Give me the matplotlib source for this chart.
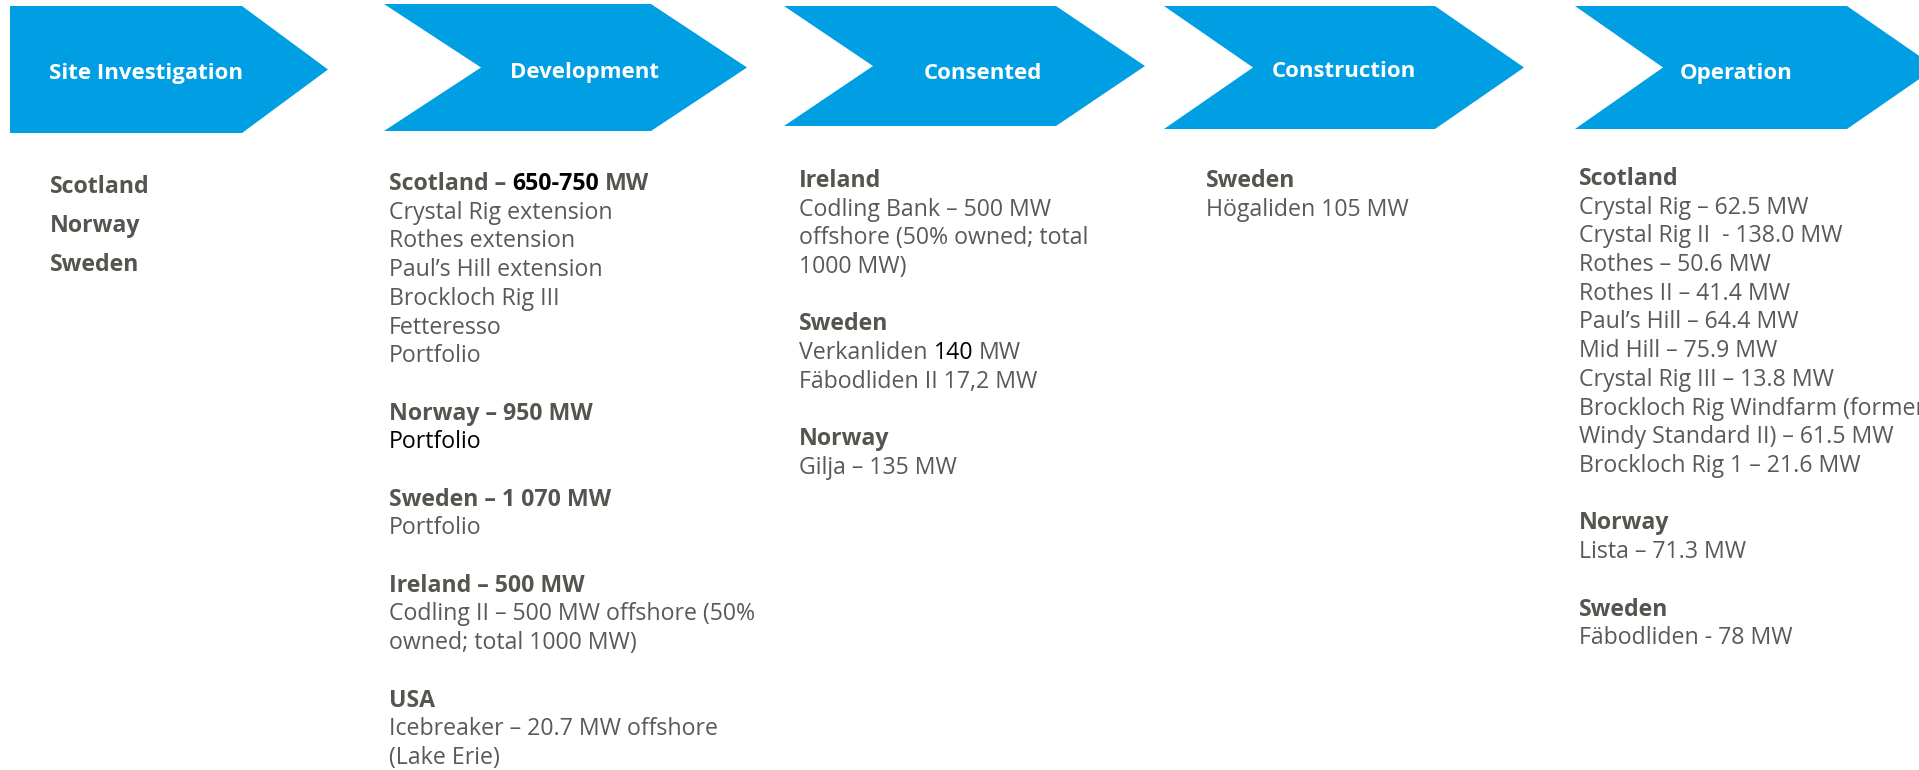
import matplotlib
matplotlib.use('Agg')
import matplotlib.pyplot as plt
from matplotlib.patches import Polygon

# --- canvas / style ---
W, H = 1919, 770
BLUE = '#009FE3'
GREY = '#595959'
HEAD_GREY = '#55554F'
BLACK = '#000000'
FONT = 'Open Sans'
BODY_SIZE = 16.7
HEADER_SIZE = 16.0
PITCH = 28.7

# --- content ---
stages = ['Site Investigation', 'Development', 'Consented', 'Construction', 'Operation']

# style codes: 'h' bold grey, 't' regular grey, 'H' bold black, 'T' regular black
site_lines = [
    [('Scotland', 'h')],
    [('Norway', 'h')],
    [('Sweden', 'h')],
]
dev_lines = [
    [('Scotland –', 'h'), ('650-750', 'H'), ('MW', 'h')],
    [('Crystal Rig extension', 't')],
    [('Rothes extension', 't')],
    [('Paul’s Hill extension', 't')],
    [('Brockloch Rig III', 't')],
    [('Fetteresso', 't')],
    [('Portfolio', 't')],
    None,
    [('Norway – 950 MW', 'h')],
    [('Portfolio', 'T')],
    None,
    [('Sweden – 1 070 MW', 'h')],
    [('Portfolio', 't')],
    None,
    [('Ireland – 500 MW', 'h')],
    [('Codling II – 500 MW offshore (50%', 't')],
    [('owned; total 1000 MW)', 't')],
    None,
    [('USA', 'h')],
    [('Icebreaker – 20.7 MW offshore', 't')],
    [('(Lake Erie)', 't')],
]
consented_lines = [
    [('Ireland', 'h')],
    [('Codling Bank – 500 MW', 't')],
    [('offshore (50% owned; total', 't')],
    [('1000 MW)', 't')],
    None,
    [('Sweden', 'h')],
    [('Verkanliden', 't'), ('140', 'T'), ('MW', 't')],
    [('Fäbodliden II 17,2 MW', 't')],
    None,
    [('Norway', 'h')],
    [('Gilja – 135 MW', 't')],
]
construction_lines = [
    [('Sweden', 'h')],
    [('Högaliden 105 MW', 't')],
]
operation_lines = [
    [('Scotland', 'h')],
    [('Crystal Rig – 62.5 MW', 't')],
    [('Crystal Rig II  - 138.0 MW', 't')],
    [('Rothes – 50.6 MW', 't')],
    [('Rothes II – 41.4 MW', 't')],
    [('Paul’s Hill – 64.4 MW', 't')],
    [('Mid Hill – 75.9 MW', 't')],
    [('Crystal Rig III – 13.8 MW', 't')],
    [('Brockloch Rig Windfarm (former', 't')],
    [('Windy Standard II) – 61.5 MW', 't')],
    [('Brockloch Rig 1 – 21.6 MW', 't')],
    None,
    [('Norway', 'h')],
    [('Lista – 71.3 MW', 't')],
    None,
    [('Sweden', 'h')],
    [('Fäbodliden - 78 MW', 't')],
]

# --- layout (pixels, y downwards) ---
# (left, notch_x or None, rect_right, tip_x, top, bottom)
shapes = [
    (10, None, 242, 328, 6, 133),
    (384, 481, 651, 747, 4, 131),
    (784, 873, 1056, 1145, 6, 126),
    (1164, 1253, 1435, 1524, 6, 129),
    (1575, 1663, 1847, 1936, 6, 129),
]
stage_cx = [146, 584, 983, 1344, 1736]
stage_base = [79, 78, 79, 77, 79]

columns = [
    (site_lines, 50, 193, 39),
    (dev_lines, 389, 190, PITCH),
    (consented_lines, 799, 187, PITCH),
    (construction_lines, 1206, 187, PITCH),
    (operation_lines, 1579, 185, PITCH),
]

STYLE = {
    'h': ('bold', HEAD_GREY),
    't': ('normal', GREY),
    'H': ('bold', BLACK),
    'T': ('normal', BLACK),
}

fig = plt.figure(figsize=(W / 100, H / 100), dpi=100)
ax = fig.add_axes([0, 0, 1, 1])
ax.set_xlim(0, W)
ax.set_ylim(H, 0)
ax.axis('off')
renderer = fig.canvas.get_renderer()

# chevrons
for (left, notch, right, tip, top, bottom), label, cx, by in zip(shapes, stages, stage_cx, stage_base):
    mid = (top + bottom) / 2
    pts = [(left, top), (right, top), (tip, mid), (right, bottom), (left, bottom)]
    if notch is not None:
        pts.append((notch, mid))
    ax.add_patch(Polygon(pts, closed=True, facecolor=BLUE, edgecolor='none', clip_on=False))
    ax.text(cx, by, label, ha='center', va='baseline', color='white',
            fontsize=HEADER_SIZE, fontweight='bold', family=FONT)


def text_width(s, weight):
    t = ax.text(0, 0, s, fontsize=BODY_SIZE, fontweight=weight, family=FONT)
    w = t.get_window_extent(renderer).width
    t.remove()
    return w


space_w = {wt: text_width('a a', wt) - text_width('aa', wt) for wt in ('normal', 'bold')}

# column texts
for lines, x0, y0, pitch in columns:
    for i, line in enumerate(lines):
        if line is None:
            continue
        x = x0
        y = y0 + i * pitch
        for j, (s, code) in enumerate(line):
            weight, color = STYLE[code]
            if j > 0:
                x += space_w[weight]
            ax.text(x, y, s, ha='left', va='baseline', fontsize=BODY_SIZE,
                    fontweight=weight, color=color, family=FONT)
            x += text_width(s, weight)

fig.savefig('out.png', dpi=100, facecolor='white')
